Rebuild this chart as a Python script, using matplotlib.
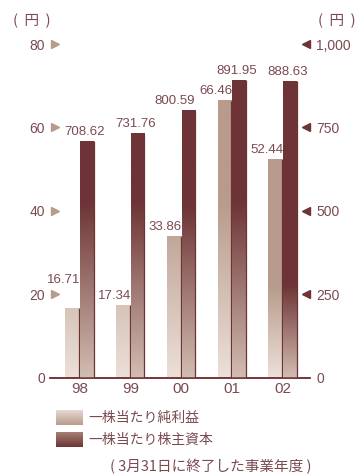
import matplotlib
matplotlib.use("Agg")
import matplotlib.pyplot as plt
import numpy as np
from matplotlib import font_manager
from matplotlib.colors import to_rgb

# ── Data ──────────────────────────────────────────────────────────────────────
years = ["98", "99", "00", "01", "02"]
eps = [16.71, 17.34, 33.86, 66.46, 52.44]          # 一株当たり純利益 (円)
bps = [708.62, 731.76, 800.59, 891.95, 888.63]     # 一株当たり株主資本 (円)
left_ticks = [0, 20, 40, 60, 80]
right_ticks = [0, 250, 500, 750, 1000]
right_tick_labels = ["0", "250", "500", "750", "1,000"]
legend_labels = ["一株当たり純利益", "一株当たり株主資本"]
footnote = "( 3月31日に終了した事業年度 )"

# ── Style ─────────────────────────────────────────────────────────────────────
TEXT = "#7a4a50"
DARK = "#6d3436"
LIGHT_TOP = "#b89b8c"
LIGHT_BOTTOM = "#ece0d9"
DARK_BOTTOM = "#d2bdb2"
# height (left-axis units) where each group's colour fade reaches full tone
fade_top = [42, 42, 41, 42, 22]
dark_label_ha = ["center", "center", "right", "center", "center"]
eps_label_lift = [16, 2.5, 2.5, 2.5, 2.5]   # points above the bar top

plt.rcParams["font.family"] = ["Noto Sans CJK JP", "DejaVu Sans"]
names = {f.name for f in font_manager.fontManager.ttflist}
NUM_FONT = "Liberation Sans Narrow" if "Liberation Sans Narrow" in names else "Liberation Sans"


def gradient(h_bar, h_full, top, bottom, n=200):
    """RGB column fading from `bottom` at 0 to `top` at h_full, cut at h_bar."""
    y = np.linspace(0, h_bar, n)
    t = np.clip(y / h_full, 0, 1)[:, None]
    top, bottom = np.array(to_rgb(top)), np.array(to_rgb(bottom))
    col = bottom + (top - bottom) * t
    return col[:, None, :]


def fill_bars(ax, bars, fades, top, bottom):
    for rect, h_full in zip(bars, fades):
        x, w, h = rect.get_x(), rect.get_width(), rect.get_height()
        ax.imshow(gradient(h, h_full, top, bottom), origin="lower",
                  extent=[x, x + w, 0, h], aspect="auto", zorder=2,
                  interpolation="bilinear")
        # thin shadow on the right edge
        ax.plot([x + w, x + w], [0, h], color=DARK, lw=0.9, zorder=3,
                solid_capstyle="butt")


fig = plt.figure(figsize=(3.57, 4.75), dpi=100)
ax = fig.add_axes([0.1401, 0.2048, 0.7283, 0.7025])
ax2 = ax.twinx()

x = np.arange(len(years))
off, w = 0.145, 0.27

eps_bars = ax.bar(x - off, eps, w, color="none", edgecolor="none")
bps_bars = ax2.bar(x + off, bps, w, color="none", edgecolor="none")

fill_bars(ax, eps_bars, fade_top, LIGHT_TOP, LIGHT_BOTTOM)
fill_bars(ax2, bps_bars, [f * 12.5 for f in fade_top], DARK, DARK_BOTTOM)

for rect, v, lift in zip(eps_bars, eps, eps_label_lift):
    ax.annotate(f"{v:.2f}", (rect.get_x() + rect.get_width(), v),
                xytext=(1, lift), textcoords="offset points", ha="right",
                va="bottom", color=TEXT, fontsize=9.5, family=NUM_FONT)
for rect, v, ha in zip(bps_bars, bps, dark_label_ha):
    xp = rect.get_x() + (rect.get_width() if ha == "right" else rect.get_width() / 2)
    ax2.annotate(f"{v:.2f}", (xp, v), xytext=(-1.5 if ha == "center" else 0, 2.5),
                 textcoords="offset points", ha=ha, va="bottom", color=TEXT,
                 fontsize=9.5, family=NUM_FONT)

ax.set_xlim(-0.58, 4.54)
ax.set_ylim(0, 80)
ax2.set_ylim(0, 1000)

ax.set_xticks(x)
ax.set_xticklabels(years, family="Liberation Sans", fontsize=11, color=TEXT)
ax.set_yticks(left_ticks)
ax.set_yticklabels([str(t) for t in left_ticks], family=NUM_FONT,
                   fontsize=10, color=TEXT)
ax2.set_yticks(right_ticks)
ax2.set_yticklabels(right_tick_labels, family=NUM_FONT, fontsize=10, color=TEXT)
ax.tick_params(axis="x", length=0, pad=3)
ax.tick_params(axis="y", length=0, pad=3.5)
ax2.tick_params(axis="y", length=0, pad=4.5)

for a in (ax, ax2):
    for s in ("top", "left", "right"):
        a.spines[s].set_visible(False)
    a.spines["bottom"].set_color(DARK)
    a.spines["bottom"].set_linewidth(1.1)
    a.patch.set_visible(False)

# tick arrows
tr_l = ax.get_yaxis_transform()
ax.plot([0.019] * 4, left_ticks[1:], ">", ms=5.5, color=LIGHT_TOP,
        transform=tr_l, clip_on=False, zorder=4)
tr_r = ax2.get_yaxis_transform()
ax2.plot([0.985] * 4, right_ticks[1:], "<", ms=5.5, color=DARK,
         transform=tr_r, clip_on=False, zorder=4)

# unit labels
fig.text(32 / 357, 1 - 21 / 475, "(  円  )", ha="center", va="center",
         color=TEXT, fontsize=10.5)
fig.text(337 / 357, 1 - 21 / 475, "(  円  )", ha="center", va="center",
         color=TEXT, fontsize=10.5)

# legend swatches
swatches = [(LIGHT_TOP, "#e9ddd6", 0.105), (DARK, "#a98577", 0.059)]
for (top, bottom, yb), label in zip(swatches, legend_labels):
    sw = fig.add_axes([0.157, yb, 0.0756, 0.0316])
    sw.imshow(gradient(1, 1, bottom, top), origin="lower", aspect="auto",
              extent=[0, 1, 0, 1], interpolation="bilinear")
    sw.axis("off")
    fig.text(0.2465, yb + 0.0158, label, ha="left", va="center",
             color=TEXT, fontsize=10)

fig.text(0.591, 0.018, footnote, ha="center", va="center", color=TEXT,
         fontsize=10.5)

fig.savefig("out.png", dpi=100)
